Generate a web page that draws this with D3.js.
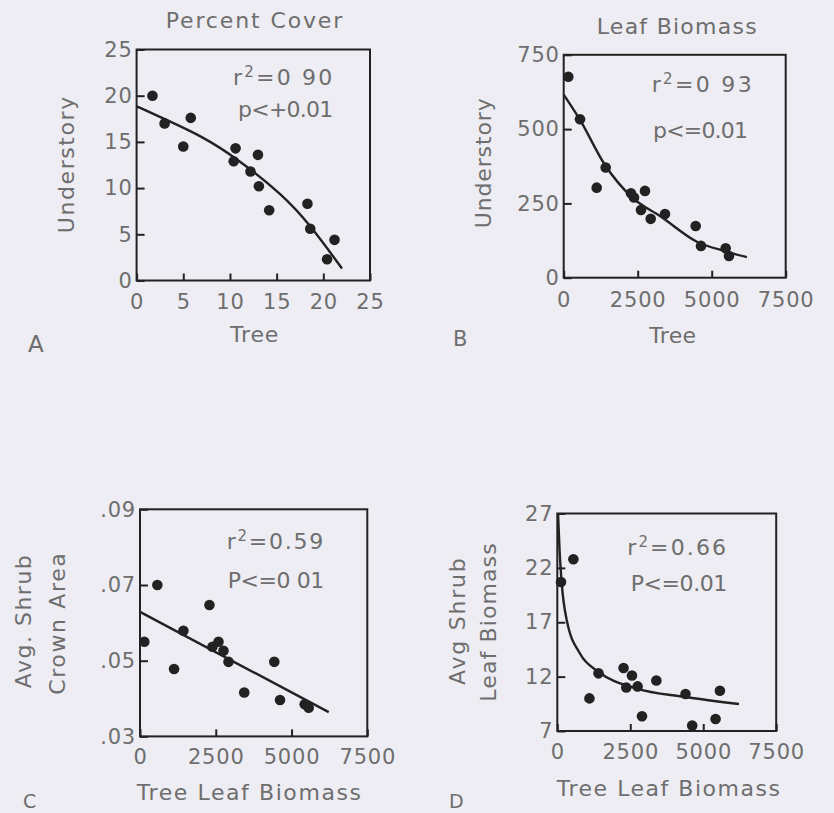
<!DOCTYPE html>
<html>
<head>
<meta charset="utf-8">
<script src="https://cdn.jsdelivr.net/npm/d3@7"></script>
<style>
body { margin: 0; background: #ededf3; }
svg text { font-family: "DejaVu Sans", sans-serif; fill: #6e6e6e; }
</style>
</head>
<body>
<div id="chart"></div>
<script>
// ---------- data ----------
// A: percent cover, tree vs understory
var coverTree  = [1.7, 3.0, 5.8, 5.0, 10.6, 10.4, 12.2, 13.0, 13.1, 14.2, 18.3, 18.6, 20.4, 21.2];
var coverUnder = [20.0, 17.0, 17.6, 14.5, 14.3, 12.9, 11.8, 13.6, 10.2, 7.6, 8.3, 5.6, 2.3, 4.4];
var coverFitX  = [0, 3.4, 7, 10.5, 15.7, 18.6, 22];
var coverFitY  = [18.85, 17.3, 15.6, 13.4, 9.25, 6.0, 1.3];

// B: leaf biomass, tree vs understory
var bioTree  = [155, 551, 1419, 1115, 2273, 2375, 2746, 2611, 2939, 3422, 4459, 4638, 5472, 5584];
var bioUnder = [676, 533, 371, 303, 284, 270, 292, 228, 198, 214, 174, 107, 99, 73];
var bioFitX  = [0, 551, 1390, 2280, 3280, 4500, 5500, 6190];
var bioFitY  = [616, 531, 380, 273, 206, 121, 88, 69];

// C: tree leaf biomass vs avg shrub crown area
var crownTree = [142, 572, 1124, 1432, 2292, 2391, 2590, 2755, 2920, 3439, 4431, 4620, 5434, 5566];
var crownArea = [.0550, .0700, .0478, .0579, .0647, .0537, .0550, .0526, .0497, .0416, .0497, .0396, .0385, .0376];
var crownFitX = [0, 6227];
var crownFitY = [.0629, .0364];

// D: tree leaf biomass vs avg shrub leaf biomass
var shrubTree = [127, 551, 1101, 1411, 2270, 2363, 2558, 2752, 2902, 3394, 4392, 4622, 5423, 5571];
var shrubLeaf = [20.7, 22.8, 10.0, 12.3, 12.8, 11.0, 12.1, 11.1, 8.35, 11.65, 10.4, 7.5, 8.1, 10.7];
var shrubFitX = [25, 80, 151, 323, 781, 1410, 2730, 4334, 6225];
var shrubFitY = [27, 23.5, 20.6, 17.2, 14.1, 12.45, 10.9, 10.15, 9.48];

// tick labels
var coverTicks = [0, 5, 10, 15, 20, 25];
var treeBioTicks = [0, 2500, 5000, 7500];
var underBioTicks = [0, 250, 500, 750];
var crownTicks = [.03, .05, .07, .09];
var shrubTicks = [7, 12, 17, 22, 27];

var svg = d3.select("#chart").append("svg")
    .attr("width", 834)
    .attr("height", 813);

function addText(x, y, str, len, size) {
    return svg.append("text")
        .attr("x", x)
        .attr("y", y)
        .attr("font-size", size || 22)
        .attr("textLength", len)
        .attr("lengthAdjust", "spacing")
        .text(str);
}

function addVText(x, cy, str, len) {
    return svg.append("text")
        .attr("transform", "translate(" + x + "," + cy + ") rotate(-90)")
        .attr("text-anchor", "middle")
        .attr("font-size", 22)
        .attr("textLength", len)
        .attr("lengthAdjust", "spacing")
        .text(str);
}

// r² line with a raised 2
function addR2(x, y, rest, len) {
    var t = svg.append("text")
        .attr("x", x)
        .attr("y", y)
        .attr("font-size", 22)
        .attr("textLength", len)
        .attr("lengthAdjust", "spacing");
    t.append("tspan").text("r");
    t.append("tspan").attr("font-size", 15).attr("dy", -8).text("2");
    t.append("tspan").attr("dy", 8).text(rest);
}

function panel(p) {
    var x = d3.scaleLinear().domain(p.xDomain).range([p.left, p.right]);
    var y = d3.scaleLinear().domain(p.yDomain).range([p.bottom, p.top]);

    var xAxis = svg.append("g")
        .attr("transform", "translate(0," + p.bottom + ")")
        .call(d3.axisBottom(x).tickValues(p.xTicks).tickSizeInner(-7).tickSizeOuter(0)
            .tickPadding(p.xPad).tickFormat(p.xFormat || d3.format("d")));
    var yAxis = svg.append("g")
        .attr("transform", "translate(" + p.left + ",0)")
        .call(d3.axisLeft(y).tickValues(p.yTicks).tickSizeInner(-8).tickSizeOuter(0)
            .tickPadding(p.yPad).tickFormat(p.yFormat || d3.format("d")));

    [xAxis, yAxis].forEach(function (a) {
        a.select(".domain").remove();
        a.selectAll(".tick line").attr("stroke", "#222").attr("stroke-width", 2);
        a.selectAll(".tick text")
            .attr("font-size", 21)
            .attr("letter-spacing", 0.8)
            .attr("fill", "#6e6e6e");
    });

    svg.append("rect")
        .attr("x", p.left)
        .attr("y", p.top)
        .attr("width", p.right - p.left)
        .attr("height", p.bottom - p.top)
        .attr("fill", "none")
        .attr("stroke", "#222")
        .attr("stroke-width", 2);

    var fit = d3.range(p.fitX.length).map(function (i) { return [p.fitX[i], p.fitY[i]]; });
    svg.append("path")
        .datum(fit)
        .attr("fill", "none")
        .attr("stroke", "#222")
        .attr("stroke-width", 2.4)
        .attr("d", d3.line()
            .x(function (d) { return x(d[0]); })
            .y(function (d) { return y(d[1]); })
            .curve(p.curve));

    svg.append("g").selectAll("circle")
        .data(d3.range(p.xs.length))
        .enter().append("circle")
        .attr("cx", function (i) { return x(p.xs[i]); })
        .attr("cy", function (i) { return y(p.ys[i]); })
        .attr("r", 5.3)
        .attr("fill", "#222");
}

// ---------- A ----------
panel({
    left: 136.6, right: 370, top: 49.5, bottom: 280.5,
    xDomain: [0, 25], yDomain: [0, 25],
    xTicks: coverTicks, yTicks: coverTicks, xPad: 14, yPad: 4,
    xs: coverTree, ys: coverUnder, fitX: coverFitX, fitY: coverFitY,
    curve: d3.curveBasis
});
addText(165.7, 28, "Percent Cover", 176.6);
addVText(74, 165, "Understory", 136.6);
addText(230, 342, "Tree", 48.3);
addText(28, 352, "A", 15, 23);
addR2(233, 85, "=0 90", 99.3);
addText(238, 117, "p<+0.01", 95.3);

// ---------- B ----------
panel({
    left: 563.7, right: 785.7, top: 54.8, bottom: 277.7,
    xDomain: [0, 7500], yDomain: [0, 750],
    xTicks: treeBioTicks, yTicks: underBioTicks, xPad: 14, yPad: 4,
    xs: bioTree, ys: bioUnder, fitX: bioFitX, fitY: bioFitY,
    curve: d3.curveMonotoneX
});
addText(596.7, 34.3, "Leaf Biomass", 160);
addVText(491, 163.3, "Understory", 130);
addText(649.3, 343.3, "Tree", 46.7);
addText(453, 345.5, "B", 14, 21);
addR2(651.7, 91.7, "=0 93", 100);
addText(653, 138, "p<=0.01", 95);

// ---------- C ----------
panel({
    left: 140, right: 367.3, top: 509.3, bottom: 736.4,
    xDomain: [0, 7500], yDomain: [.03, .09],
    xTicks: treeBioTicks, yTicks: crownTicks, xPad: 13, yPad: 4,
    yFormat: function (d) { return d3.format(".2f")(d).replace(/^0/, ""); },
    xs: crownTree, ys: crownArea, fitX: crownFitX, fitY: crownFitY,
    curve: d3.curveLinear
});
addVText(31, 621.7, "Avg. Shrub", 133);
addVText(65, 624, "Crown Area", 141.7);
addText(136.7, 800, "Tree Leaf Biomass", 224.3);
addText(23, 808, "C", 11, 19);
addR2(226.7, 549, "=0.59", 96.6);
addText(227.7, 588.3, "P<=0 01", 96.6);

// ---------- D ----------
panel({
    left: 557.3, right: 776.2, top: 513.5, bottom: 731,
    xDomain: [0, 7500], yDomain: [7, 27],
    xTicks: treeBioTicks, yTicks: shrubTicks, xPad: 13, yPad: 4,
    xs: shrubTree, ys: shrubLeaf, fitX: shrubFitX, fitY: shrubFitY,
    curve: d3.curveMonotoneX
});
addVText(465, 621.7, "Avg Shrub", 126.7);
addVText(496, 622.5, "Leaf Biomass", 158.3);
addText(556.7, 795.7, "Tree Leaf Biomass", 223.3);
addText(449, 808, "D", 13, 19);
addR2(627.3, 555, "=0.66", 98.7);
addText(630.7, 590.7, "P<=0.01", 96.6);
</script>
</body>
</html>
